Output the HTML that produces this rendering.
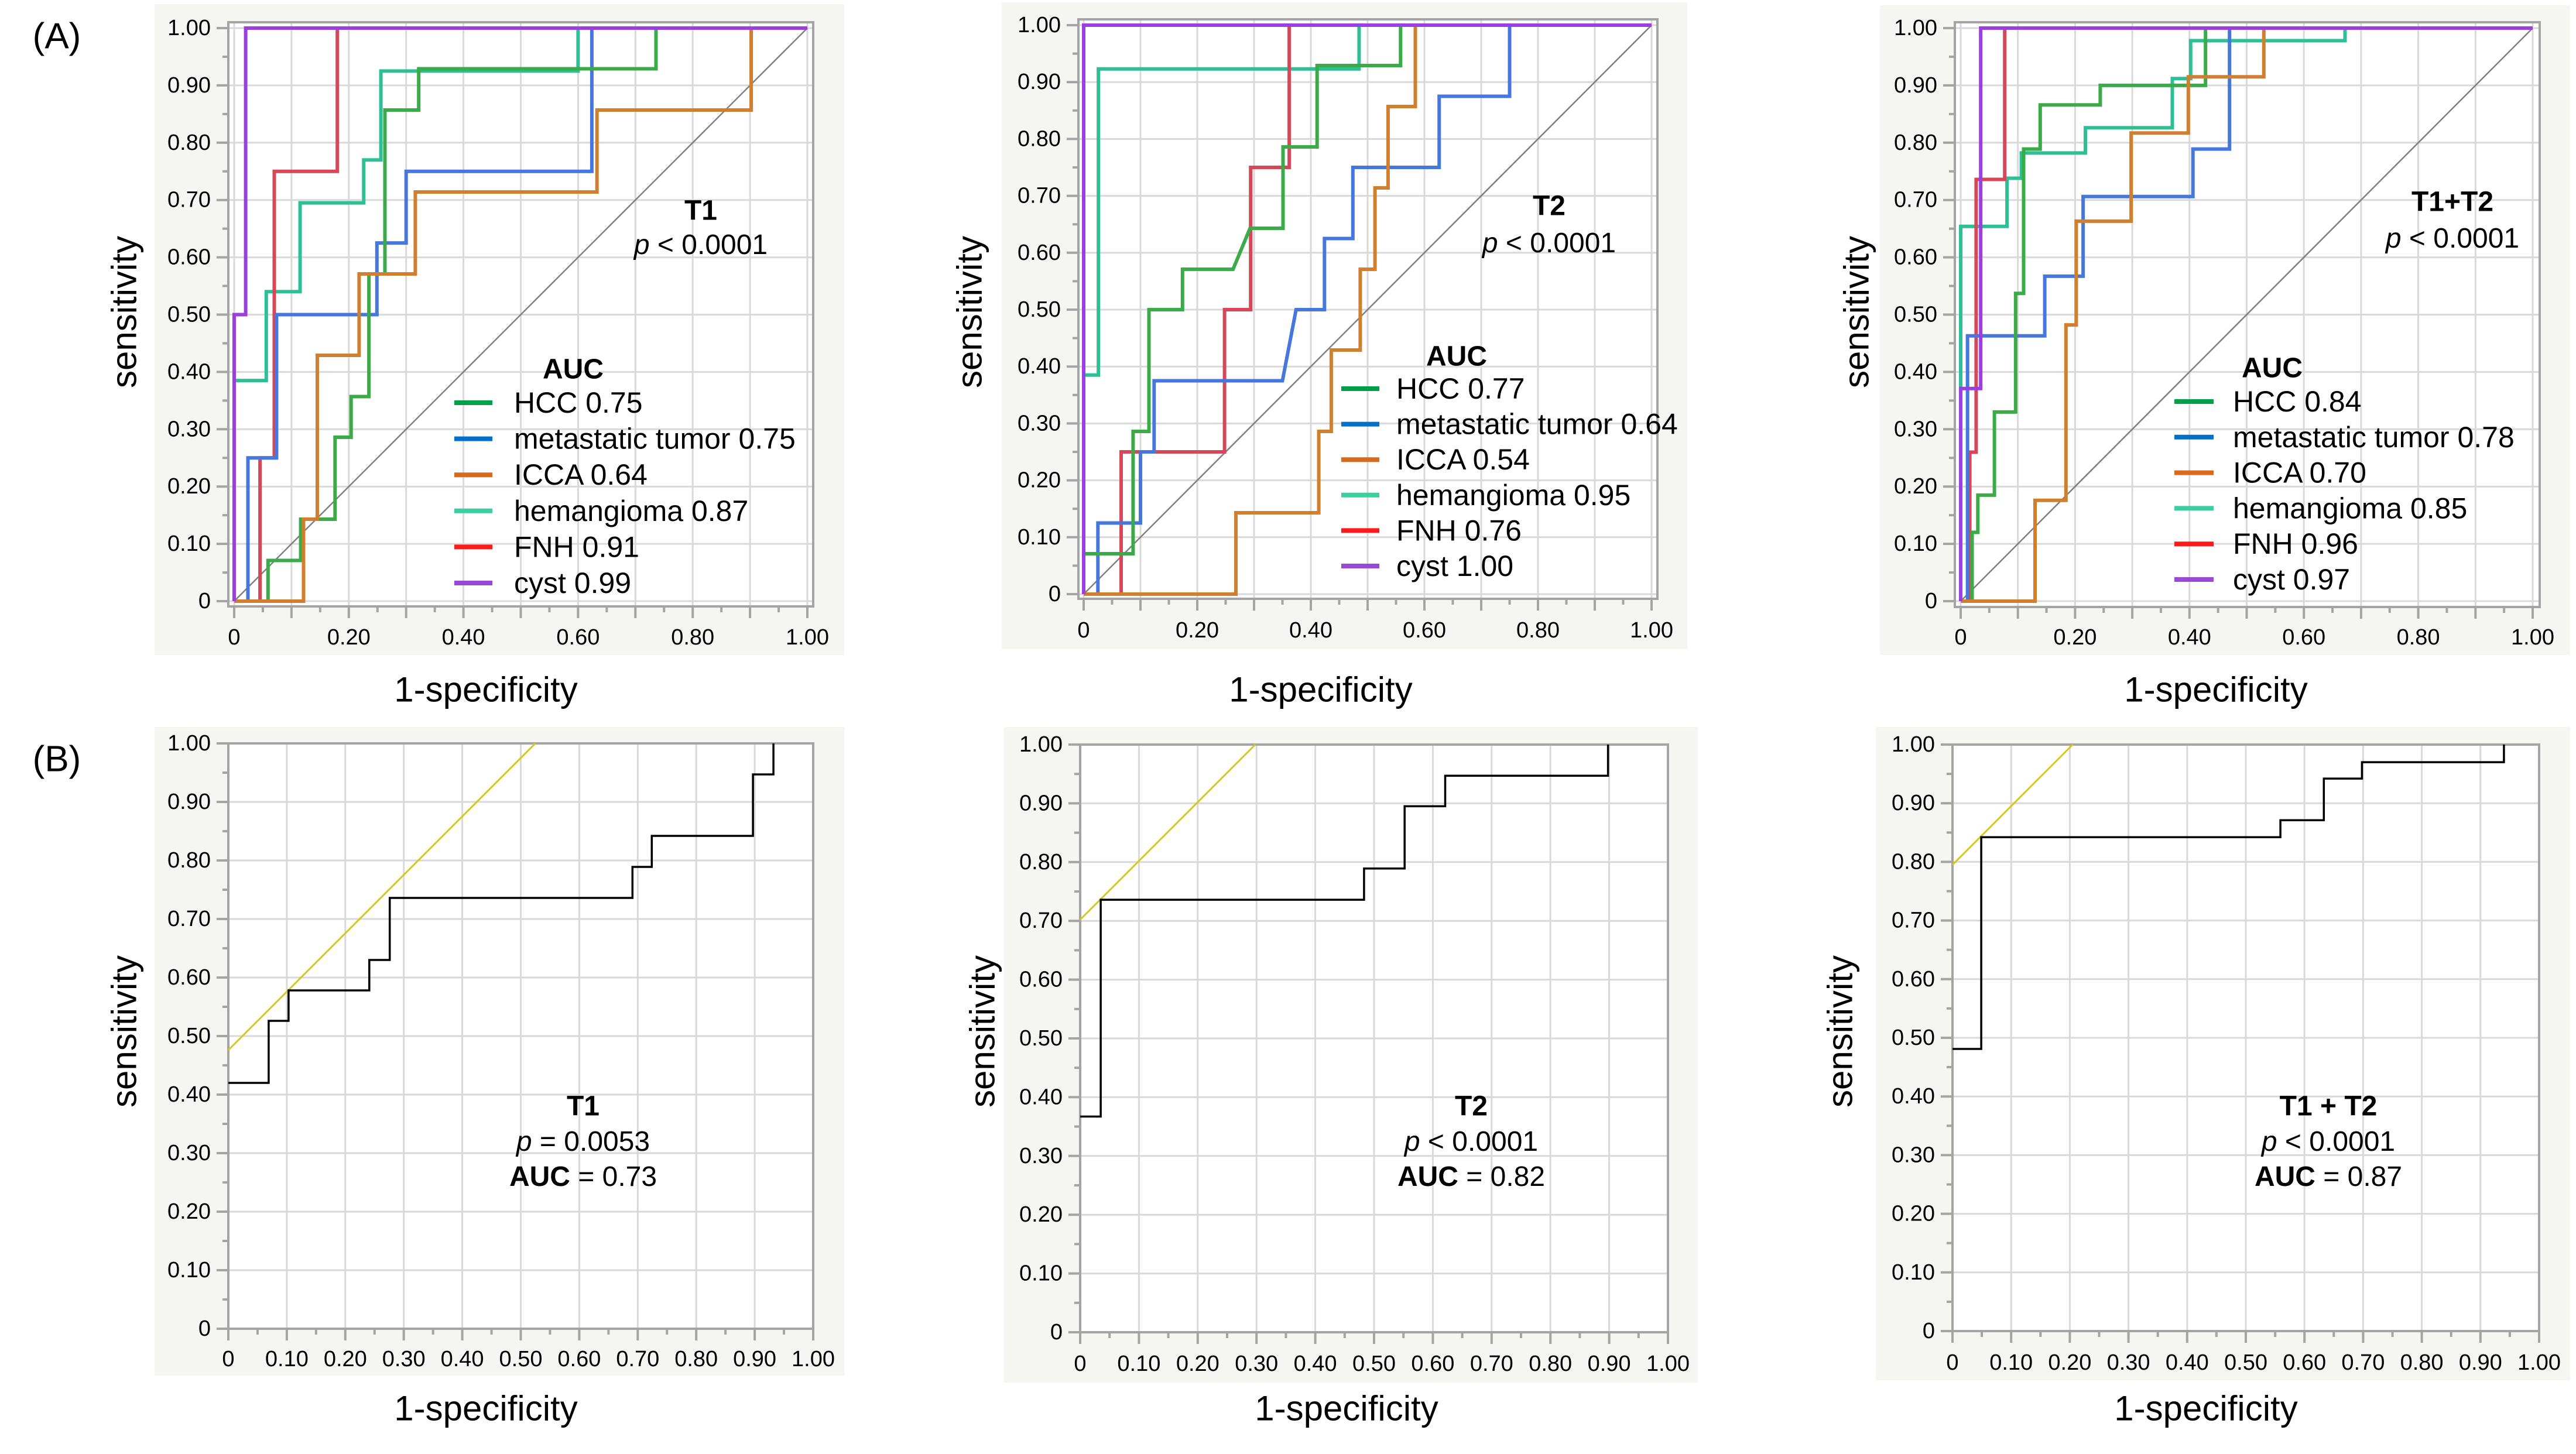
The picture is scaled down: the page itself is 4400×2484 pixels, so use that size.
<!DOCTYPE html>
<html><head><meta charset="utf-8"><style>
html,body{margin:0;padding:0;background:#fff;}
svg{display:block;font-family:"Liberation Sans",Arial,sans-serif;}
</style></head><body>
<svg id="fig" xmlns="http://www.w3.org/2000/svg" width="4400" height="2484" viewBox="0 0 4400 2484">
<rect x="0" y="0" width="4400" height="2484" fill="#fff"/>
<text x="97" y="62" font-size="62" text-anchor="middle" dominant-baseline="central">(A)</text>
<text x="97" y="1297" font-size="62" text-anchor="middle" dominant-baseline="central">(B)</text>
</svg>
<script>
// ---------- data: panel A (multi-class ROC) ----------
const seriesNames = ["cyst","FNH","hemangioma","metastatic tumor","HCC","ICCA"];
const legendOrder = ["HCC","metastatic tumor","ICCA","hemangioma","FNH","cyst"];
const aucT1 = ["0.75","0.75","0.64","0.87","0.91","0.99"];
const aucT2 = ["0.77","0.64","0.54","0.95","0.76","1.00"];
const aucT12 = ["0.84","0.78","0.70","0.85","0.96","0.97"];
const xTicksA = [0,0.2,0.4,0.6,0.8,1.0];
const xTickLabelsA = ["0","0.20","0.40","0.60","0.80","1.00"];
const yTicks = [0,0.1,0.2,0.3,0.4,0.5,0.6,0.7,0.8,0.9,1.0];
const yTickLabels = ["0","0.10","0.20","0.30","0.40","0.50","0.60","0.70","0.80","0.90","1.00"];
const xTicksB = [0,0.1,0.2,0.3,0.4,0.5,0.6,0.7,0.8,0.9,1.0];
const xTickLabelsB = ["0","0.10","0.20","0.30","0.40","0.50","0.60","0.70","0.80","0.90","1.00"];

const t1_cyst = [[0,0],[0,0.5],[0.02,0.5],[0.02,1],[1,1]];
const t1_fnh = [[0.045,0],[0.045,0.25],[0.07,0.25],[0.07,0.75],[0.18,0.75],[0.18,1],[1,1]];
const t1_hem = [[0,0.385],[0.056,0.385],[0.056,0.54],[0.115,0.54],[0.115,0.695],[0.226,0.695],[0.226,0.77],[0.256,0.77],[0.256,0.925],[0.6,0.925],[0.6,1],[1,1]];
const t1_met = [[0.024,0],[0.024,0.25],[0.074,0.25],[0.074,0.5],[0.249,0.5],[0.249,0.625],[0.3,0.625],[0.3,0.75],[0.624,0.75],[0.624,1],[1,1]];
const t1_hcc = [[0.059,0],[0.059,0.071],[0.116,0.071],[0.116,0.143],[0.176,0.143],[0.176,0.286],[0.204,0.286],[0.204,0.357],[0.235,0.357],[0.235,0.571],[0.263,0.571],[0.263,0.857],[0.322,0.857],[0.322,0.929],[0.736,0.929],[0.736,1],[1,1]];
const t1_icca = [[0,0],[0.121,0],[0.121,0.143],[0.145,0.143],[0.145,0.429],[0.218,0.429],[0.218,0.571],[0.316,0.571],[0.316,0.714],[0.633,0.714],[0.633,0.857],[0.902,0.857],[0.902,1],[1,1]];

const t2_cyst = [[0,0],[0,1],[1,1]];
const t2_fnh = [[0.066,0],[0.066,0.25],[0.248,0.25],[0.248,0.5],[0.294,0.5],[0.294,0.75],[0.362,0.75],[0.362,1],[1,1]];
const t2_hem = [[0,0.385],[0.026,0.385],[0.026,0.923],[0.485,0.923],[0.485,1],[1,1]];
const t2_met = [[0.025,0],[0.025,0.125],[0.1,0.125],[0.1,0.25],[0.124,0.25],[0.124,0.375],[0.35,0.375],[0.374,0.5],[0.424,0.5],[0.424,0.625],[0.474,0.625],[0.474,0.75],[0.626,0.75],[0.626,0.875],[0.75,0.875],[0.75,1],[1,1]];
const t2_hcc = [[0,0.071],[0.087,0.071],[0.087,0.286],[0.115,0.286],[0.115,0.5],[0.174,0.5],[0.174,0.571],[0.263,0.571],[0.293,0.643],[0.351,0.643],[0.351,0.786],[0.411,0.786],[0.411,0.929],[0.558,0.929],[0.558,1],[1,1]];
const t2_icca = [[0,0],[0.268,0],[0.268,0.143],[0.414,0.143],[0.414,0.286],[0.436,0.286],[0.436,0.429],[0.487,0.429],[0.487,0.571],[0.513,0.571],[0.513,0.714],[0.536,0.714],[0.536,0.857],[0.584,0.857],[0.584,1],[1,1]];

const t12_cyst = [[0,0],[0,0.371],[0.035,0.371],[0.035,1],[1,1]];
const t12_fnh = [[0.016,0],[0.016,0.26],[0.027,0.26],[0.027,0.736],[0.077,0.736],[0.077,1],[1,1]];
const t12_hem = [[0,0.37],[0,0.654],[0.081,0.654],[0.081,0.738],[0.106,0.738],[0.106,0.782],[0.218,0.782],[0.218,0.826],[0.37,0.826],[0.37,0.912],[0.402,0.912],[0.402,0.978],[0.672,0.978],[0.672,1],[1,1]];
const t12_met = [[0.012,0],[0.012,0.463],[0.147,0.463],[0.147,0.567],[0.214,0.567],[0.214,0.706],[0.406,0.706],[0.406,0.789],[0.47,0.789],[0.47,1],[1,1]];
const t12_hcc = [[0.02,0],[0.02,0.12],[0.03,0.12],[0.03,0.185],[0.059,0.185],[0.059,0.33],[0.096,0.33],[0.096,0.537],[0.11,0.537],[0.11,0.789],[0.139,0.789],[0.139,0.866],[0.244,0.866],[0.244,0.9],[0.428,0.9],[0.428,1],[1,1]];
const t12_icca = [[0,0],[0.13,0],[0.13,0.176],[0.184,0.176],[0.184,0.482],[0.202,0.482],[0.202,0.663],[0.298,0.663],[0.298,0.817],[0.398,0.817],[0.398,0.915],[0.53,0.915],[0.53,1],[1,1]];

// ---------- data: panel B (combined ROC) ----------
const b1_roc = [[0,0.42],[0.069,0.42],[0.069,0.526],[0.103,0.526],[0.103,0.578],[0.241,0.578],[0.241,0.63],[0.276,0.63],[0.276,0.736],[0.691,0.736],[0.691,0.789],[0.724,0.789],[0.724,0.842],[0.897,0.842],[0.897,0.947],[0.932,0.947],[0.932,1]];
const b1_tangent = [[0,0.476],[0.525,1]];
const b2_roc = [[0,0.367],[0.035,0.367],[0.035,0.736],[0.483,0.736],[0.483,0.789],[0.552,0.789],[0.552,0.895],[0.621,0.895],[0.621,0.947],[0.898,0.947],[0.898,1]];
const b2_tangent = [[0,0.702],[0.298,1]];
const b3_roc = [[0,0.481],[0.049,0.481],[0.049,0.842],[0.559,0.842],[0.559,0.871],[0.633,0.871],[0.633,0.942],[0.698,0.942],[0.698,0.97],[0.94,0.97],[0.94,1]];
const b3_tangent = [[0,0.795],[0.205,1]];

// ---------- styles ----------
const lineColors = {"cyst":"#9b3fe0","FNH":"#d6475a","hemangioma":"#2fbf96","metastatic tumor":"#4577dc","HCC":"#3aab48","ICCA":"#cf7f2e"};
const swatchColors = {"cyst":"#9a48d8","FNH":"#ff1a1a","hemangioma":"#3ccea0","metastatic tumor":"#0070c8","HCC":"#00a04a","ICCA":"#d86a1e"};

const NS = "http://www.w3.org/2000/svg";
const svg = document.getElementById('fig');
function mk(tag, attrs, parent){ const e=document.createElementNS(NS,tag); for(const k in attrs) e.setAttribute(k,attrs[k]); (parent||svg).appendChild(e); return e; }

function drawPanel(cfg){
  const g = mk('g',{});
  
  
  const sx = v => cfg.x0 + v*(cfg.x1-cfg.x0);
  const sy = v => cfg.y0 + v*(cfg.y1-cfg.y0);
  const bg = mk('rect',{x:cfg.bg[0],y:cfg.bg[1],width:cfg.bg[2]-cfg.bg[0],height:cfg.bg[3]-cfg.bg[1],fill:'#f5f5f1'},g);
  
  
  const fr = cfg.frame;
  mk('rect',{x:fr[0],y:fr[1],width:fr[2]-fr[0],height:fr[3]-fr[1],fill:'#fff'},g);
  for(let i=0;i<=10;i++){
    const v=i/10;
    mk('line',{x1:sx(v),x2:sx(v),y1:fr[1],y2:fr[3],stroke:'#d9d9d9','stroke-width':3},g);
    mk('line',{x1:fr[0],x2:fr[2],y1:sy(v),y2:sy(v),stroke:'#d9d9d9','stroke-width':3},g);
  }
  mk('rect',{x:fr[0],y:fr[1],width:fr[2]-fr[0],height:fr[3]-fr[1],fill:'none',stroke:'#a4a4a4','stroke-width':4},g);
  for(let i=0;i<=20;i++){
    const v=i/20, L = (i%2===0)?20:10;
    mk('line',{x1:fr[0],x2:fr[0]-L,y1:sy(v),y2:sy(v),stroke:'#a4a4a4','stroke-width':4},g);
    mk('line',{x1:sx(v),x2:sx(v),y1:fr[3],y2:fr[3]+L,stroke:'#a4a4a4','stroke-width':4},g);
  }
  yTicks.forEach((v,i)=>{
    const t=mk('text',{x:fr[0]-30,y:sy(v),'font-size':38,'text-anchor':'end','dominant-baseline':'central'},g);
    
    
    t.textContent=yTickLabels[i];
  });
  cfg.xTicks.forEach((v,i)=>{
    const t=mk('text',{x:sx(v),y:cfg.xLabY,'font-size':38,'text-anchor':'middle','dominant-baseline':'central'},g);
    
    
    t.textContent=cfg.xLabels[i];
  });
  const xt=mk('text',{x:cfg.xTitle[0],y:cfg.xTitle[1],'font-size':60,'text-anchor':'middle','dominant-baseline':'central'},g);
  
  
  xt.textContent='1-specificity';
  const yt=mk('text',{x:0,y:0,'font-size':60,'text-anchor':'middle','dominant-baseline':'central',transform:`translate(${cfg.yTitle[0]},${cfg.yTitle[1]}) rotate(-90)`},g);
  
  
  yt.textContent='sensitivity';
  const pts = arr => arr.map(p=>sx(p[0]).toFixed(1)+','+sy(p[1]).toFixed(1)).join(' ');
  if(cfg.diag){
    const d=mk('line',{x1:sx(0),y1:sy(0),x2:sx(1),y2:sy(1),stroke:'#7f7f7f','stroke-width':2.5},g);
    
    
  }
  (cfg.series||[]).forEach(s=>{
    const p=mk('polyline',{points:pts(s.data),fill:'none',stroke:lineColors[s.key],'stroke-width':6,'stroke-linejoin':'miter'},g);
    
    
  });
  if(cfg.tangent){
    const p=mk('polyline',{points:pts(cfg.tangent),fill:'none',stroke:'#d4c81a','stroke-width':3},g);
    
    
  }
  if(cfg.roc){
    const p=mk('polyline',{points:pts(cfg.roc),fill:'none',stroke:'#000','stroke-width':3.5},g);
    
    
  }
  if(cfg.legend){
    const L=cfg.legend;
    const a1=mk('text',{x:L.titleX,y:L.tY,'font-size':48,'font-weight':'bold','text-anchor':'middle','dominant-baseline':'central'},g);
    
    
    a1.textContent=L.title;
    const a2=mk('text',{x:L.titleX,y:L.pY,'font-size':48,'text-anchor':'middle','dominant-baseline':'central'},g);
    
    
    const it=mk('tspan',{'font-style':'italic'},a2); it.textContent='p';
    const rest=mk('tspan',{},a2); rest.textContent=' < 0.0001';
    const ah=mk('text',{x:L.aucX,y:L.aucY,'font-size':48,'font-weight':'bold','text-anchor':'middle','dominant-baseline':'central'},g);
    
    
    ah.textContent='AUC';
    legendOrder.forEach((k,i)=>{
      const y=L.rows[0]+i*(L.rows[1]-L.rows[0]);
      const sw=mk('line',{x1:L.sw0,x2:L.sw1,y1:y,y2:y,stroke:swatchColors[k],'stroke-width':8},g);
      
      
      const t=mk('text',{x:L.tx,y:y,'font-size':50,'dominant-baseline':'central'},g);
      
      
      t.textContent=k+' '+L.auc[i];
    });
  }
  if(cfg.note){
    const N=cfg.note;
    const t1=mk('text',{x:N.x,y:N.y,'font-size':48,'font-weight':'bold','text-anchor':'middle','dominant-baseline':'central'},g);
    
    
    t1.textContent=N.title;
    const t2=mk('text',{x:N.x,y:N.y+60,'font-size':48,'text-anchor':'middle','dominant-baseline':'central'},g);
    
    
    const i1=mk('tspan',{'font-style':'italic'},t2); i1.textContent='p';
    const r1=mk('tspan',{},t2); r1.textContent=N.p;
    const t3=mk('text',{x:N.x,y:N.y+120,'font-size':48,'text-anchor':'middle','dominant-baseline':'central'},g);
    
    
    const b=mk('tspan',{'font-weight':'bold'},t3); b.textContent='AUC';
    const r2=mk('tspan',{},t3); r2.textContent=' = '+N.auc;
  }
}

drawPanel({name:'roc-t1-by-lesion',x0:400,x1:1379,y0:1027,y1:48,bg:[264,7,1442,1119],frame:[390,38,1389,1036],
  xTicks:xTicksA,xLabels:xTickLabelsA,xLabY:1089,xTitle:[830,1178],yTitle:[212,533],diag:true,
  series:[{key:'hemangioma',data:t1_hem},{key:'FNH',data:t1_fnh},{key:'metastatic tumor',data:t1_met},{key:'HCC',data:t1_hcc},{key:'ICCA',data:t1_icca},{key:'cyst',data:t1_cyst}],
  legend:{title:'T1',titleX:1197,tY:360,pY:418,aucX:979,aucY:631,sw0:776,sw1:841,tx:878,rows:[688,749.6],auc:aucT1}});
drawPanel({name:'roc-t2-by-lesion',x0:1851,x1:2821,y0:1015,y1:43,bg:[1711,4,2882,1109],frame:[1842,33,2831,1023],
  xTicks:xTicksA,xLabels:xTickLabelsA,xLabY:1077,xTitle:[2256,1178],yTitle:[1656,533],diag:true,
  series:[{key:'hemangioma',data:t2_hem},{key:'FNH',data:t2_fnh},{key:'metastatic tumor',data:t2_met},{key:'HCC',data:t2_hcc},{key:'ICCA',data:t2_icca},{key:'cyst',data:t2_cyst}],
  legend:{title:'T2',titleX:2646,tY:352,pY:415,aucX:2488,aucY:609,sw0:2291,sw1:2356,tx:2385,rows:[664,724.6],auc:aucT2}});
drawPanel({name:'roc-t1t2-by-lesion',x0:3349,x1:4326,y0:1027,y1:48,bg:[3211,9,4390,1119],frame:[3339,38,4338,1037],
  xTicks:xTicksA,xLabels:xTickLabelsA,xLabY:1089,xTitle:[3785,1178],yTitle:[3171,533],diag:true,
  series:[{key:'hemangioma',data:t12_hem},{key:'FNH',data:t12_fnh},{key:'metastatic tumor',data:t12_met},{key:'HCC',data:t12_hcc},{key:'ICCA',data:t12_icca},{key:'cyst',data:t12_cyst}],
  legend:{title:'T1+T2',titleX:4189,tY:345,pY:407,aucX:3881,aucY:629,sw0:3714,sw1:3781,tx:3814,rows:[686,746.8],auc:aucT12}});

drawPanel({name:'roc-t1-combined',x0:390,x1:1389,y0:2270,y1:1270,bg:[264,1242,1442,2350],frame:[390,1270,1389,2270],
  xTicks:xTicksB,xLabels:xTickLabelsB,xLabY:2322,xTitle:[830,2406],yTitle:[212,1762],
  roc:b1_roc,tangent:b1_tangent,note:{title:'T1',x:996,y:1890,p:' = 0.0053',auc:'0.73'}});
drawPanel({name:'roc-t2-combined',x0:1845,x1:2849,y0:2276,y1:1272,bg:[1715,1242,2900,2362],frame:[1845,1272,2849,2276],
  xTicks:xTicksB,xLabels:xTickLabelsB,xLabY:2330,xTitle:[2300,2406],yTitle:[1678,1762],
  roc:b2_roc,tangent:b2_tangent,note:{title:'T2',x:2513,y:1890,p:' < 0.0001',auc:'0.82'}});
drawPanel({name:'roc-t1t2-combined',x0:3335,x1:4337,y0:2274,y1:1272,bg:[3204,1242,4390,2358],frame:[3335,1272,4337,2274],
  xTicks:xTicksB,xLabels:xTickLabelsB,xLabY:2328,xTitle:[3768,2406],yTitle:[3143,1762],
  roc:b3_roc,tangent:b3_tangent,note:{title:'T1 + T2',x:3977,y:1890,p:' < 0.0001',auc:'0.87'}});
</script>
</body></html>
